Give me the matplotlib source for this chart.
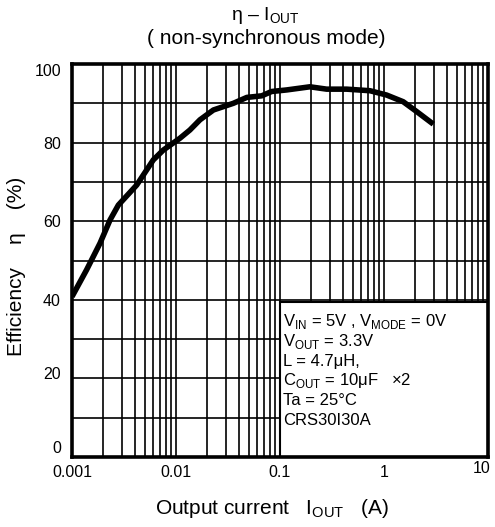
import matplotlib
matplotlib.use("Agg")
import matplotlib.pyplot as plt
import matplotlib.transforms as mtransforms
from matplotlib.patches import Rectangle
from matplotlib.ticker import LogLocator, NullFormatter

plt.rcParams['font.family'] = ['Liberation Sans', 'DejaVu Sans']
plt.rcParams['mathtext.fontset'] = 'custom'
plt.rcParams['mathtext.rm'] = 'Liberation Sans'

# efficiency curve
i_out = [0.001, 0.00138, 0.00186, 0.00232, 0.00279, 0.00419, 0.00605, 0.00755,
         0.0109, 0.0136, 0.017, 0.0229, 0.0356, 0.048, 0.0667, 0.083, 0.116,
         0.194, 0.281, 0.4375, 0.733, 1.06, 1.53, 2.06, 2.98]
eta = [40.8, 47.6, 54.4, 60.3, 64.1, 69.2, 75.6, 78.1,
       81.1, 83.2, 85.8, 88.3, 90.0, 91.5, 91.9, 93.0, 93.4,
       94.2, 93.6, 93.6, 93.2, 92.1, 90.4, 87.9, 84.7]

x_ticks = [0.001, 0.01, 0.1, 1, 10]
x_labels = ['0.001', '0.01', '0.1', '1', '10']
y_ticks = [0, 20, 40, 60, 80, 100]

conditions = [r'V$_{\mathregular{IN}}$ = 5V , V$_{\mathregular{MODE}}$ = 0V',
              r'V$_{\mathregular{OUT}}$ = 3.3V',
              'L = 4.7μH,',
              r'C$_{\mathregular{OUT}}$ = 10μF   ×2',
              'Ta = 25°C',
              'CRS30I30A']

fig = plt.figure(figsize=(4.95, 5.27), dpi=100)
ax = fig.add_axes([72/495, 1 - 457/527, 416/495, 393/527])

ax.plot(i_out, eta, color='black', lw=4.0, solid_capstyle='butt', zorder=3)

ax.set_xscale('log')
ax.set_xlim(0.001, 10)
ax.set_ylim(0, 100)
ax.set_xticks(x_ticks)
ax.set_xticklabels(x_labels)
ax.xaxis.set_minor_locator(LogLocator(base=10, subs=range(2, 10), numticks=20))
ax.xaxis.set_minor_formatter(NullFormatter())
ax.set_yticks(y_ticks)
ax.set_yticks(range(10, 100, 20), minor=True)

ax.grid(True, which='both', color='black', lw=1.2, zorder=1)
ax.set_axisbelow(True)
ax.tick_params(which='both', length=0, labelsize=11.5)
ax.tick_params(axis='x', pad=6)
ax.tick_params(axis='y', pad=8)
for s in ax.spines.values():
    s.set_linewidth(2.6)
    s.set_zorder(5)

# nudge a few tick labels like on the original
dpi_tr = fig.dpi_scale_trans
offs = {0: 10, 20: 5, 100: -6}
for tk, lab in zip(ax.yaxis.get_major_ticks(), y_ticks):
    if lab in offs:
        tk.label1.set_transform(tk.label1.get_transform() +
                                mtransforms.ScaledTranslation(0, offs[lab]/100, dpi_tr))
tk10 = ax.xaxis.get_major_ticks()[-1]
tk10.label1.set_transform(tk10.label1.get_transform() +
                          mtransforms.ScaledTranslation(-6/100, 4/100, dpi_tr))

# conditions box
box = Rectangle((0.5, 0), 0.5, 0.394, transform=ax.transAxes, facecolor='white',
                edgecolor='black', lw=1.5, zorder=4)
ax.add_patch(box)
for k, line in enumerate(conditions):
    ax.text(0.507, 0.344 - 0.05*k, line, transform=ax.transAxes, fontsize=12,
            va='center', ha='left', zorder=6)

fig.text(265/495, 1 - 16/527, r'η – I$_{\mathregular{OUT}}$', ha='center', va='center', fontsize=14)
fig.text(266/495, 1 - 38/527, '( non-synchronous mode)', ha='center', va='center', fontsize=15)
fig.text(272/495, 1 - 508/527, r'Output current   I$_{\mathregular{OUT}}$   (A)',
         ha='center', va='center', fontsize=15)
fig.text(17/495, 1 - 266/527, 'Efficiency    η    (%)', ha='center', va='center',
         rotation=90, fontsize=15)

fig.savefig('out.png', dpi=100)
